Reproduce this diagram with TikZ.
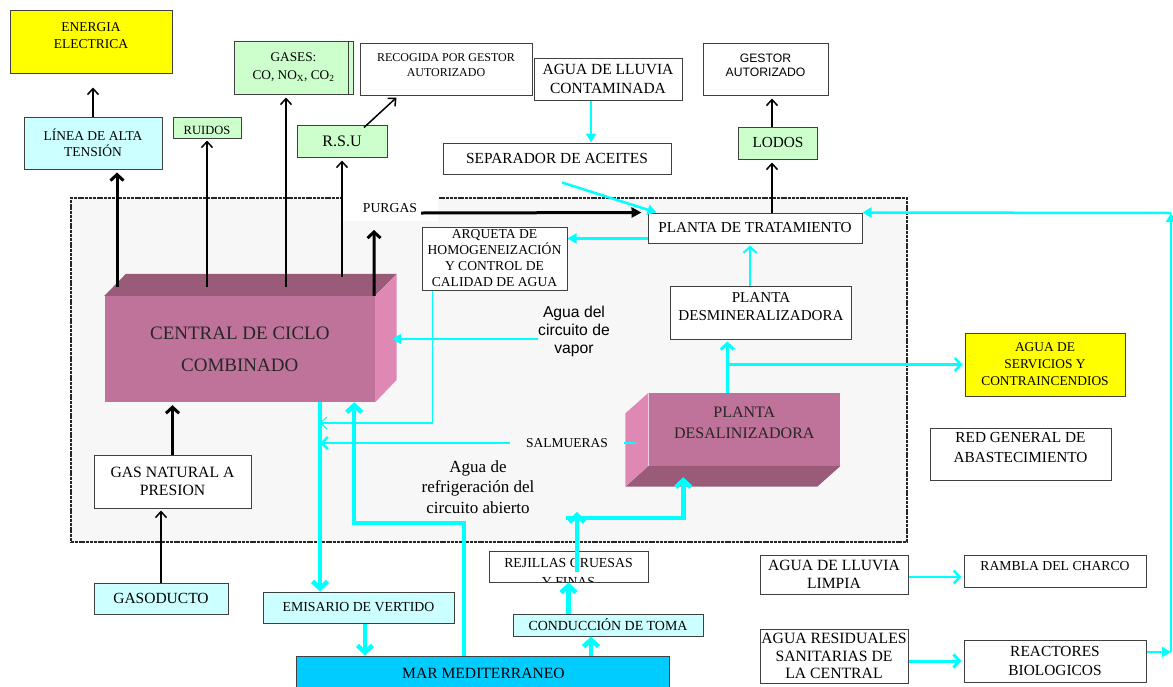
\documentclass[tikz,border=0pt]{standalone}
\usepackage{fontspec}
\setmainfont{Liberation Serif}
\setsansfont{Liberation Sans}
\usetikzlibrary{arrows.meta}

\definecolor{amarillo}{HTML}{FFFF00}
\definecolor{celeste}{HTML}{CCFFFF}
\definecolor{verde}{HTML}{CCFFCC}
\definecolor{marazul}{HTML}{00CCFF}
\definecolor{agua}{HTML}{00FFFF}
\definecolor{rosa}{HTML}{C0739A}
\definecolor{rosaosc}{HTML}{9A5B78}
\definecolor{rosacla}{HTML}{DE88B3}
\definecolor{fondo}{HTML}{F7F7F7}
\definecolor{borde}{HTML}{404040}
\newcommand{\fsz}[2]{\fontsize{#1}{#2}\selectfont}

\begin{document}
\begin{tikzpicture}[x=1pt, y=-1pt,
            caja/.style={draw=borde, line width=1pt, fill=white, align=center, inner sep=1pt},
            tam/.style 2 args={minimum width=#1, minimum height=#2},
            txt/.style={align=center, inner sep=0pt},
            rot/.style n args={3}{path picture={\node[txt, font=#2] at ([yshift=#1]path picture bounding box.center) {#3};}},
            frente/.style={fill=rosa, draw=none, align=center, text=black!85},
            negro/.style={draw=black, line width=1.5pt, -{Straight Barb[length=6pt,width=11pt]}, shorten >=3pt},
            negrog/.style={draw=black, line width=3pt, -{Straight Barb[length=6pt,width=13pt]}, shorten >=3pt},
            purga/.style={draw=black, line width=3pt, -{Triangle[length=10pt,width=10pt]}, shorten >=6pt},
            aguaf/.style={draw=agua, line width=1.2pt, -{Straight Barb[length=6pt,width=12pt]}},
            aguas/.style={draw=agua, line width=2.5pt, -{Straight Barb[length=6pt,width=12pt]}},
            aguam/.style={draw=agua, line width=2.5pt, -{Straight Barb[length=6pt,width=13pt]}, shorten >=2pt},
            aguat/.style={draw=agua, line width=2.5pt, -{Triangle[length=9pt,width=10pt]}},
            aguag/.style={draw=agua, line width=4.5pt, -{Straight Barb[length=7pt,width=15pt]}}]
            \useasboundingbox (0,0) rectangle (1173,686);
            \node[draw=black!85, fill=fondo, line width=1.3pt, dash pattern=on 3pt off 0.8pt, tam={836}{344}] (zona) at (489,370) {};
            \node[fill=white, tam={96}{26}, inner sep=0pt, font=\fsz{13.7}{16}] (purg) at (390,208) {PURGAS};

            \node[frente, tam={270.4}{106}, font=\fsz{19}{32}] (ccc) at (239.8,349) {CENTRAL DE CICLO\\COMBINADO};
            \fill[rosaosc] (ccc.north west) -- ++(21.5,-22) -- ([shift={(21.5,-22)}]ccc.north east) -- (ccc.north east) -- cycle;
            \fill[rosacla] (ccc.north east) -- ++(21.5,-22) -- ++(0,106) -- (ccc.south east) -- cycle;
            \node[frente, tam={191.4}{73}, rot={7pt}{\fsz{16}{21}}{PLANTA\\DESALINIZADORA}] (pdes) at (744.3,429.5) {};
            \fill[rosacla] (pdes.north west) -- ++(-23,20.5) -- ++(0,73) -- (pdes.south west) -- cycle;
            \fill[rosaosc] (pdes.south west) -- ++(-23,20.5) -- ([shift={(-23,20.5)}]pdes.south east) -- (pdes.south east) -- cycle;

            \node[caja, tam={162}{63}, fill=amarillo, rot={6pt}{\fsz{13.5}{17}}{ENERGIA\\ELECTRICA}] (ener) at (91,41.5) {};
            \node[caja, tam={138}{52}, fill=celeste, font=\fsz{13.5}{16}] (lat) at (93,143) {LÍNEA DE ALTA\\TENSIÓN};
            \node[caja, tam={68}{21}, fill=verde, rot={-2.5pt}{\fsz{12.5}{14}}{RUIDOS}] (ruid) at (207,127.5) {};
            \node[caja, tam={119}{53}, fill=verde, font=\fsz{13.3}{18}] (gases) at (293.5,67.5) {GASES:\\CO, NO\textsubscript{X}, CO\textsubscript{2}};
            \draw[borde, line width=1pt] ([xshift=-5pt]gases.north east) -- ([xshift=-5pt]gases.south east);
            \node[caja, tam={172}{52}, rot={3.5pt}{\fsz{12}{15}}{RECOGIDA POR GESTOR\\AUTORIZADO}] (recog) at (446,69) {};
            \node[caja, tam={90}{32}, fill=verde, font=\fsz{16}{18}] (rsu) at (342,141) {R.S.U};
            \node[caja, tam={148}{42}, font=\fsz{15.5}{19}] (lluc) at (608,79) {AGUA DE LLUVIA\\CONTAMINADA};
            \node[caja, tam={228}{31}, font=\fsz{15.4}{18}] (sep) at (557,158.5) {SEPARADOR DE ACEITES};
            \node[caja, tam={125}{52}, rot={4pt}{\sffamily\fsz{12.2}{14}}{GESTOR\\AUTORIZADO}] (gest) at (765.5,69) {};
            \node[caja, tam={79}{32}, fill=verde, font=\fsz{15.3}{18}] (lod) at (778,143) {LODOS};
            \node[caja, tam={214}{30}, font=\fsz{15.2}{18}] (ptrat) at (755,228) {PLANTA DE TRATAMIENTO};
            \node[caja, tam={145}{63}, inner sep=0pt, font=\fsz{13.6}{16}] (arq) at (494.5,258.5) {ARQUETA DE\\HOMOGENEIZACIÓN\\Y CONTROL DE\\CALIDAD DE AGUA};
            \node[caja, tam={181}{53}, rot={5.5pt}{\fsz{15.1}{18}}{PLANTA\\DESMINERALIZADORA}] (desm) at (761,312.5) {};
            \node[caja, tam={160}{63}, fill=amarillo, font=\fsz{13.4}{17}] (serv) at (1045,364.5) {AGUA DE\\SERVICIOS Y\\CONTRAINCENDIOS};
            \node[caja, tam={181}{52}, rot={6pt}{\fsz{15.3}{20}}{RED GENERAL DE\\ABASTECIMIENTO}] (red) at (1020.5,454) {};
            \node[caja, tam={157}{53}, font=\fsz{15.7}{18}] (gnat) at (172.5,481.5) {GAS NATURAL A\\PRESION};
            \node[caja, tam={134}{31}, fill=celeste, font=\fsz{15.5}{18}] (gasod) at (161,598.5) {GASODUCTO};
            \node[caja, tam={191}{31}, fill=celeste, font=\fsz{13.8}{16}] (emis) at (358.5,607.5) {EMISARIO DE VERTIDO};
            \node[caja, tam={373}{34}, fill=marazul, font=\fsz{15.6}{18}] (mar) at (483.4,673) {MAR MEDITERRANEO};
            \node[caja, tam={190}{22}, fill=celeste, font=\fsz{13.9}{16}] (cond) at (608,625) {CONDUCCIÓN DE TOMA};
            \node[caja, tam={159}{31}, rot={-6pt}{\fsz{13.8}{19}}{REJILLAS GRUESAS\\Y FINAS}] (rej) at (568.5,566.5) {};
            \node[caja, tam={148}{39}, font=\fsz{15.6}{18}] (llim) at (834,574.5) {AGUA DE LLUVIA\\LIMPIA};
            \node[caja, tam={182}{32}, rot={5pt}{\fsz{13.7}{16}}{RAMBLA DEL CHARCO}] (ramb) at (1055,571) {};
            \node[caja, tam={148}{54}, font=\fsz{15.7}{17.5}] (res) at (834,656) {AGUA RESIDUALES\\SANITARIAS DE\\LA CENTRAL};
            \node[caja, tam={182}{42}, font=\fsz{15.4}{19}] (reac) at (1055,661) {REACTORES\\BIOLOGICOS};
            \node[txt, font=\sffamily\fsz{15.7}{18}] (vap) at (574,331) {Agua del\\circuito de\\vapor};
            \node[txt, font=\rmfamily\fsz{17}{20.5}] (refr) at (478,487) {Agua de\\refrigeración del\\circuito abierto};

            \coordinate (o1) at (117,287);
            \coordinate (o2) at (207,287);
            \coordinate (o3) at (286,287);
            \coordinate (o4) at (342,277);
            \coordinate (pu) at (374,230);
            \coordinate (ps) at (421,213);
            \coordinate (j1) at (320,423);
            \coordinate (j2) at (320,443);
            \coordinate (rc) at (464,523);
            \coordinate (rj) at (577,512);
            \coordinate (rh) at (566,518);
            \coordinate (lp1) at (1171,652);
            \coordinate (lp2) at (1171,213);

            \draw[negro, shorten >=14pt] (lat.north) -- (lat.north |- ener.south);
            \draw[negrog] (o1) -- (o1 |- lat.south);
            \draw[negro, shorten >=2pt] (o2) -- (o2 |- ruid.south);
            \draw[negro] (o3) -- (o3 |- gases.south);
            \draw[negro] (o4) -- (o4 |- rsu.south);
            \draw[negrog, shorten >=0pt] ([xshift=-1pt]ccc.north east) -- (pu);
            \draw[negro, shorten >=0pt] ([shift={(22,3)}]rsu.north) -- ([shift={(37,2)}]recog.south west);
            \draw[negro] ([xshift=-6pt]lod.north) -- ([xshift=-6pt]lod.north |- gest.south);
            \draw[negro] ([xshift=-6pt]lod.south |- ptrat.north) -- ([xshift=-6pt]lod.south);
            \draw[negrog] (gnat.north) -- (gnat.north |- ccc.south);
            \draw[negro, shorten >=2pt] (gasod.north) -- (gasod.north |- gnat.south);
            \draw[purga] (ps) -- (ptrat.north west);

            \draw[aguat] ([xshift=-17pt]lluc.south) -- ([xshift=-17pt]lluc.south |- sep.north);
            \draw[aguat] ([shift={(5,8)}]sep.south) -- ([shift={(9,0)}]ptrat.north west);
            \draw[aguat] ([shift={(0,-5)}]ptrat.south west) -- ([shift={(0,-5)}]ptrat.south west -| arq.east);
            \draw[aguaf] ([xshift=11pt]arq.south west) |- (j1);
            \draw[aguas] ([shift={(-12,13.5)}]pdes.west) -- (j2);
            \node[txt, fill=fondo, inner xsep=16pt, inner ysep=2pt, font=\fsz{13.5}{16}] (salm) at (567,443) {SALMUERAS};
            \draw[aguat, shorten >=17pt] ([shift={(0,8)}]vap.west) -- ([shift={(0,8)}]vap.west -| ccc.east);
            \draw[aguag] (ccc.south -| j1) -- (emis.north -| j1);
            \draw[aguag] (rc |- mar.north) -- (rc) -| ([xshift=-21pt]ccc.south east);
            \draw[aguag] ([xshift=6.5pt]emis.south) -- ([xshift=6.5pt]emis.south |- mar.north);
            \draw[aguag] ([xshift=-17pt]cond.south |- mar.north) -- ([xshift=-17pt]cond.south);
            \draw[aguag] (cond.north -| rej) -- (rej.south);
            \draw[aguag] ([shift={(8.5,5)}]rej.center) -- (rj);
            \draw[aguag, shorten >=11pt] (rh) -| ([xshift=-61pt]pdes.south);
            \draw[aguam, line width=3pt] ([xshift=-17pt]pdes.north) -- ([xshift=-17pt]pdes.north |- desm.south);
            \draw[aguam] ([xshift=-17pt]pdes.north |- serv.west) -- (serv.west);
            \draw[aguam, line width=2pt] ([xshift=-11pt]desm.north) -- ([xshift=-11pt]desm.north |- ptrat.south);
            \draw[aguam] ([shift={(0,2.5)}]llim.east) -- ([shift={(0,2.5)}]llim.east -| ramb.west);
            \draw[aguam, line width=3pt] (res.east |- reac.west) -- (reac.west);
            \draw[aguat] ([shift={(0,-9)}]reac.east) -- (lp1);
            \draw[aguat] (lp1) -- (lp2);
            \draw[aguat] (lp2) -- (ptrat.north east);
        \end{tikzpicture}
\end{document}
